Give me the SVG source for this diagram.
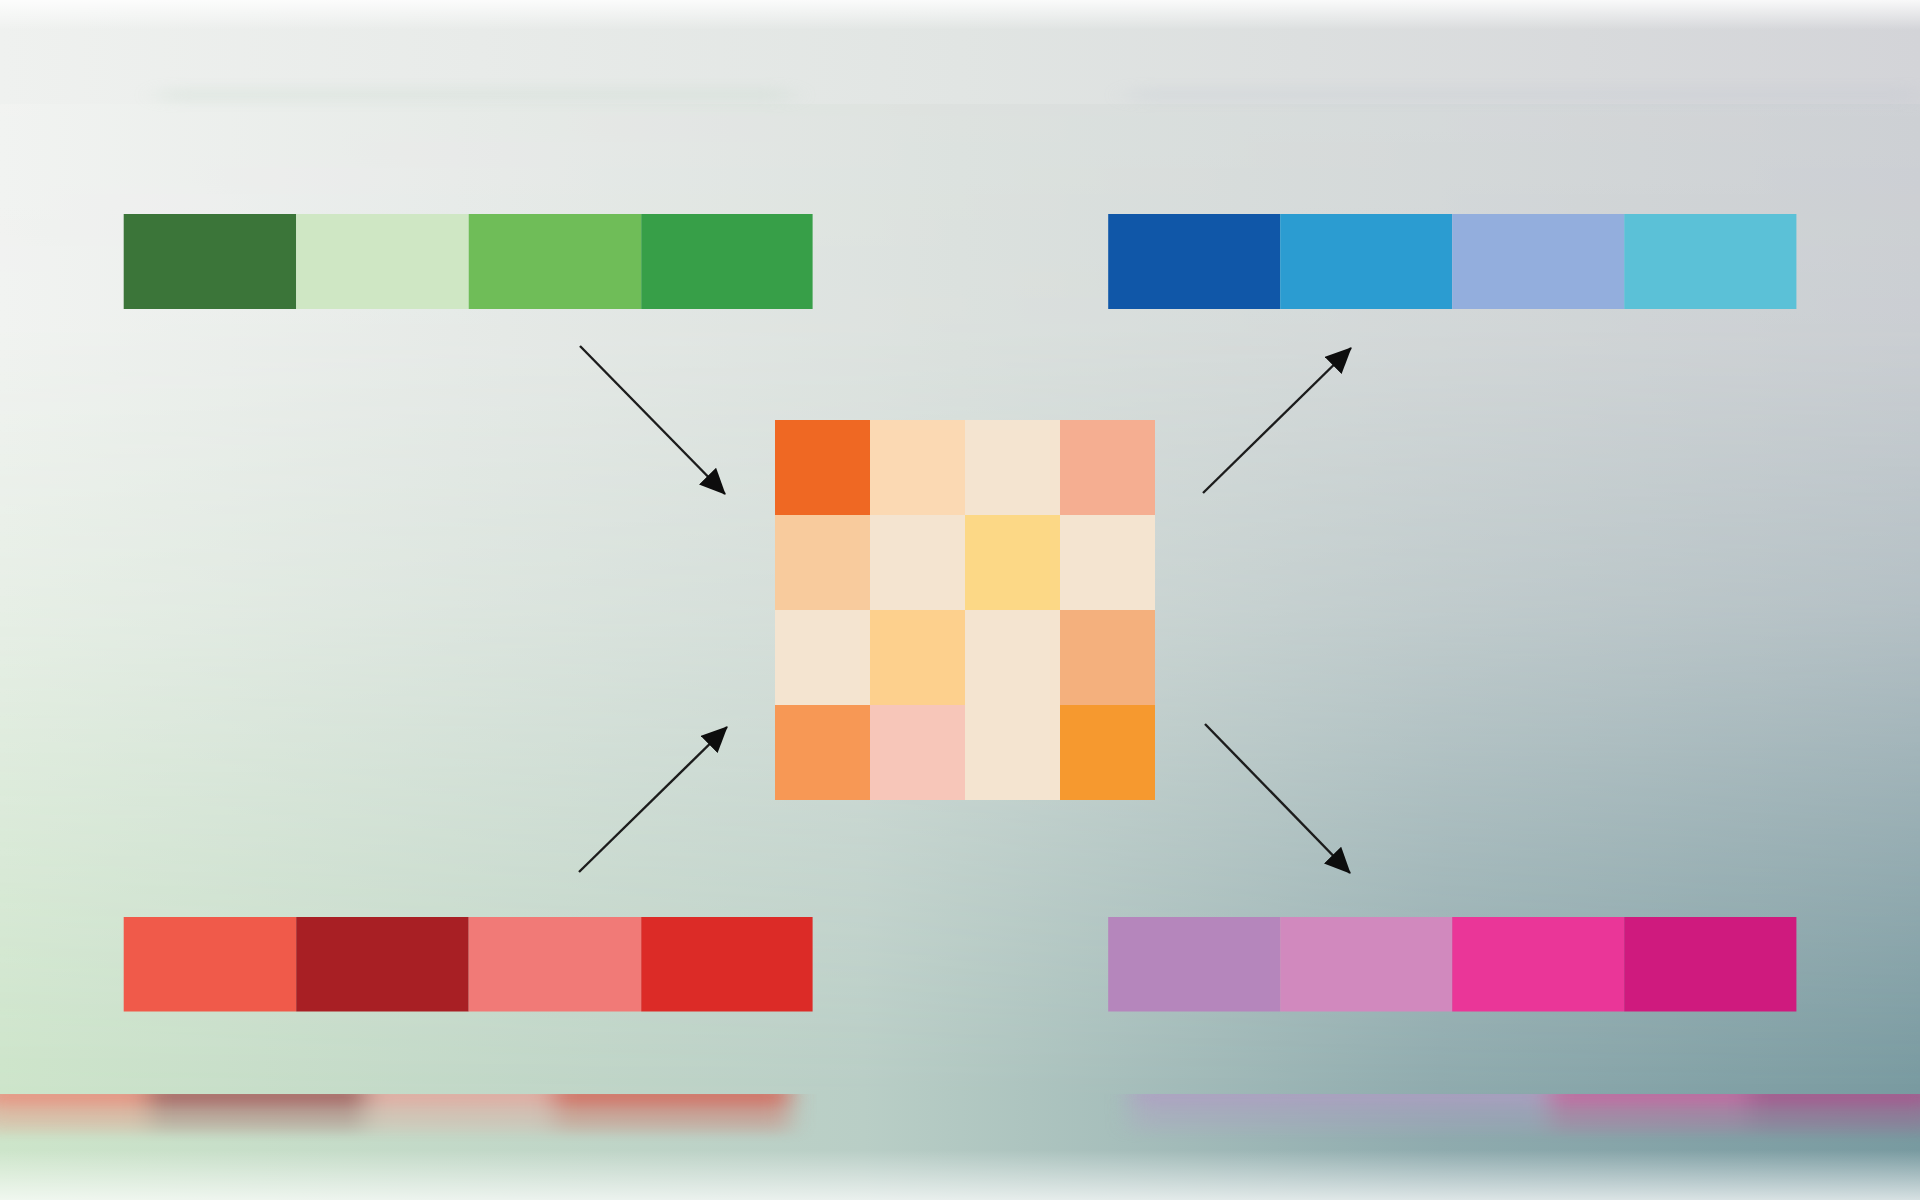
<svg xmlns="http://www.w3.org/2000/svg" width="1920" height="1200" viewBox="0 0 1920 1200">
  <style>
    .arrow { stroke: #1c1c1c; stroke-width: 2.4; fill: none; marker-end: url(#head); }
  </style>
  <defs>
    <marker id="head" viewBox="0 0 26 24" refX="25" refY="12" markerWidth="26" markerHeight="24" markerUnits="userSpaceOnUse" orient="auto">
      <path d="M0,0 L26,12 L0,24 z" fill="#0d0d0d"/>
    </marker>
    <linearGradient id="rowTop" x1="0" y1="0" x2="1" y2="0">
      <stop offset="0" stop-color="#F2F3F2"/>
      <stop offset="0.5" stop-color="#DDE2DF"/>
      <stop offset="1" stop-color="#CFD1D5"/>
    </linearGradient>
    <linearGradient id="rowBot" x1="0" y1="0" x2="1" y2="0">
      <stop offset="0" stop-color="#CDE5CA"/>
      <stop offset="0.45" stop-color="#B9CEC6"/>
      <stop offset="0.75" stop-color="#8FABAE"/>
      <stop offset="1" stop-color="#789AA0"/>
    </linearGradient>
    <linearGradient id="vfade" x1="0" y1="0" x2="0" y2="1">
      <stop offset="0" stop-color="#fff"/>
      <stop offset="0.3" stop-color="#fff" stop-opacity="0.95"/>
      <stop offset="0.55" stop-color="#fff" stop-opacity="0.7"/>
      <stop offset="0.8" stop-color="#fff" stop-opacity="0.3"/>
      <stop offset="1" stop-color="#fff" stop-opacity="0"/>
    </linearGradient>
    <mask id="mTop" maskUnits="userSpaceOnUse" x="0" y="0" width="1920" height="1200">
      <rect x="0" y="0" width="1920" height="1100" fill="url(#vfade)"/>
    </mask>
    <linearGradient id="bandTop" x1="0" y1="0" x2="1" y2="0">
      <stop offset="0" stop-color="#EFF1EF"/>
      <stop offset="0.5" stop-color="#E1E5E3"/>
      <stop offset="1" stop-color="#D3D4D8"/>
    </linearGradient>
    <linearGradient id="whiteTop" x1="0" y1="0" x2="0" y2="1">
      <stop offset="0" stop-color="#fff" stop-opacity="0.85"/>
      <stop offset="1" stop-color="#fff" stop-opacity="0"/>
    </linearGradient>
    <linearGradient id="whiteBot" x1="0" y1="0" x2="0" y2="1">
      <stop offset="0" stop-color="#fff" stop-opacity="0"/>
      <stop offset="1" stop-color="#fff" stop-opacity="0.7"/>
    </linearGradient>
    <linearGradient id="reflFade" x1="0" y1="0" x2="0" y2="1">
      <stop offset="0" stop-color="#fff"/>
      <stop offset="0.35" stop-color="#fff" stop-opacity="0.55"/>
      <stop offset="1" stop-color="#fff" stop-opacity="0"/>
    </linearGradient>
    <mask id="mRefl" maskUnits="userSpaceOnUse" x="0" y="1094" width="1920" height="106">
      <rect x="0" y="1094" width="1920" height="50" fill="url(#reflFade)"/>
    </mask>
    <filter id="blur" x="-20%" y="-100%" width="140%" height="300%">
      <feGaussianBlur stdDeviation="12 6"/>
    </filter>
    <filter id="blurS" x="-20%" y="-100%" width="140%" height="300%">
      <feGaussianBlur stdDeviation="14 6"/>
    </filter>
  </defs>

  <!-- background -->
  <g id="background">
    <rect x="0" y="0" width="1920" height="1200" fill="url(#rowBot)"/>
    <rect x="0" y="0" width="1920" height="1200" fill="url(#rowTop)" mask="url(#mTop)"/>
    <rect x="0" y="0" width="1920" height="104" fill="url(#bandTop)"/>
    <rect x="0" y="0" width="1920" height="30" fill="url(#whiteTop)"/>
    <g filter="url(#blurS)" opacity="0.2">
      <rect x="160" y="88" width="630" height="14" fill="#B8D0C0"/>
      <rect x="1130" y="88" width="790" height="14" fill="#B8C0CC"/>
    </g>
    <g mask="url(#mRefl)">
      <g filter="url(#blur)" opacity="0.8">
        <rect x="-20" y="1088" width="167" height="50" fill="#EE7F6E"/>
        <rect x="147" y="1088" width="220" height="50" fill="#A0484C"/>
        <rect x="367" y="1088" width="184" height="50" fill="#E8A098"/>
        <rect x="551" y="1088" width="239" height="50" fill="#D8584C"/>
        <rect x="1131" y="1088" width="417" height="50" fill="#B09CC4"/>
        <rect x="1548" y="1088" width="200" height="50" fill="#D05FA0"/>
        <rect x="1748" y="1088" width="190" height="50" fill="#B0488A"/>
      </g>
    </g>
    <rect x="0" y="1150" width="1920" height="50" fill="url(#whiteBot)"/>
  </g>

  <!-- top-left green bar -->
  <g id="bar-green">
    <rect x="123.7" y="214" width="172.5" height="95" fill="#3B7539"/>
    <rect x="296.2" y="214" width="172.5" height="95" fill="#CFE7C4"/>
    <rect x="468.7" y="214" width="172.5" height="95" fill="#6FBD58"/>
    <rect x="641.2" y="214" width="171.4" height="95" fill="#379F48"/>
  </g>

  <!-- top-right blue bar -->
  <g id="bar-blue">
    <rect x="1108.2" y="214" width="172" height="95" fill="#1057A8"/>
    <rect x="1280.2" y="214" width="172" height="95" fill="#2B9CD1"/>
    <rect x="1452.2" y="214" width="172" height="95" fill="#93AEDD"/>
    <rect x="1624.2" y="214" width="172.2" height="95" fill="#5BC1D7"/>
  </g>

  <!-- bottom-left red bar -->
  <g id="bar-red">
    <rect x="123.7" y="917" width="172.5" height="94.5" fill="#F05A4A"/>
    <rect x="296.2" y="917" width="172.5" height="94.5" fill="#A81F24"/>
    <rect x="468.7" y="917" width="172.5" height="94.5" fill="#F17A77"/>
    <rect x="641.2" y="917" width="171.4" height="94.5" fill="#DC2B27"/>
  </g>

  <!-- bottom-right purple/pink bar -->
  <g id="bar-pink">
    <rect x="1108.2" y="917" width="172" height="94.5" fill="#B586BC"/>
    <rect x="1280.2" y="917" width="172" height="94.5" fill="#D189BE"/>
    <rect x="1452.2" y="917" width="172" height="94.5" fill="#EA3698"/>
    <rect x="1624.2" y="917" width="172.2" height="94.5" fill="#CF1A7E"/>
  </g>

  <!-- center grid -->
  <g id="grid">
    <rect x="775" y="420" width="95" height="95" fill="#EF6823"/>
    <rect x="870" y="420" width="95" height="95" fill="#FBD9B3"/>
    <rect x="965" y="420" width="95" height="95" fill="#F4E4D0"/>
    <rect x="1060" y="420" width="95" height="95" fill="#F5AE91"/>

    <rect x="775" y="515" width="95" height="95" fill="#F8CB9D"/>
    <rect x="870" y="515" width="95" height="95" fill="#F4E4D0"/>
    <rect x="965" y="515" width="95" height="95" fill="#FCD886"/>
    <rect x="1060" y="515" width="95" height="95" fill="#F4E4D0"/>

    <rect x="775" y="610" width="95" height="95" fill="#F4E4D0"/>
    <rect x="870" y="610" width="95" height="95" fill="#FDD08D"/>
    <rect x="965" y="610" width="95" height="95" fill="#F4E4D0"/>
    <rect x="1060" y="610" width="95" height="95" fill="#F4B07D"/>

    <rect x="775" y="705" width="95" height="95" fill="#F79855"/>
    <rect x="870" y="705" width="95" height="95" fill="#F7C6B9"/>
    <rect x="965" y="705" width="95" height="95" fill="#F4E4D0"/>
    <rect x="1060" y="705" width="95" height="95" fill="#F6992F"/>
  </g>

  <!-- connectors -->
  <g id="connectors">
    <line class="arrow" x1="580" y1="346" x2="725" y2="494"/>
    <line class="arrow" x1="579" y1="872" x2="727" y2="727"/>
    <line class="arrow" x1="1203" y1="493" x2="1351" y2="348"/>
    <line class="arrow" x1="1205" y1="724" x2="1350" y2="873"/>
  </g>
</svg>
